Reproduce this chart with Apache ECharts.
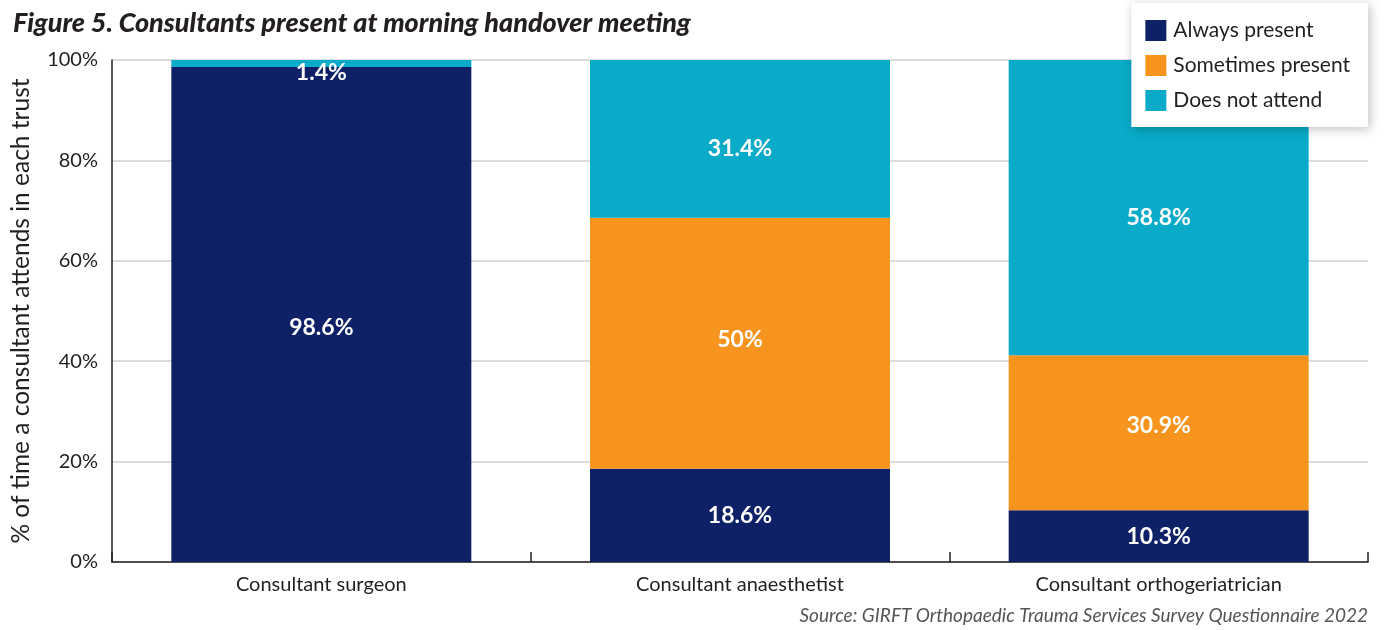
<!DOCTYPE html>
<html>
<head>
<meta charset="utf-8">
<script src="https://cdn.jsdelivr.net/npm/echarts@6/dist/echarts.min.js"></script>
<style>
  html, body { margin: 0; padding: 0; background: #fff; }
  #chart { width: 1384px; height: 630px; }
</style>
</head>
<body>
<div id="chart"></div>
<script>
// Share of trusts by consultant attendance at morning handover
const categories = ['Consultant surgeon', 'Consultant anaesthetist', 'Consultant orthogeriatrician'];
const alwaysPresent = [98.6, 18.6, 10.3];
const sometimesPresent = [0, 50, 30.9];
const doesNotAttend = [1.4, 31.4, 58.8];
const yTicks = [0, 20, 40, 60, 80, 100];

const FONT = 'Lato, "Open Sans", sans-serif';
const colors = { always: '#0E2167', sometimes: '#F7941D', none: '#09ABC8' };

function fmt(v) { return v + '%'; }

// per-bar label nudges (vertical, px)
function labelFor(values, dy) {
  return values.map((v, i) => ({
    value: v,
    label: {
      show: v > 0,
      offset: [0, dy ? dy[i] : 0]
    }
  }));
}

const labelStyle = {
  show: true,
  position: 'inside',
  color: '#fff',
  fontFamily: FONT,
  fontWeight: 'bold',
  fontSize: 23,
  formatter: p => fmt(p.value)
};

const chart = echarts.init(document.getElementById('chart'));
chart.setOption({
  animation: false,
  title: {
    text: 'Figure 5. Consultants present at morning handover meeting',
    left: 8,
    top: 5,
    textStyle: { fontFamily: FONT, fontStyle: 'italic', fontWeight: 900, fontSize: 27, color: '#231F20' }
  },
  graphic: [{
    type: 'text',
    right: 16,
    top: 606,
    style: {
      text: 'Source: GIRFT Orthopaedic Trauma Services Survey Questionnaire 2022',
      font: 'italic 19px ' + FONT,
      fill: '#555'
    }
  }],
  legend: {
    orient: 'vertical',
    right: 16,
    top: 3,
    itemWidth: 21,
    itemHeight: 21,
    itemGap: 14,
    padding: [17, 18, 16, 14],
    backgroundColor: '#fff',
    shadowColor: 'rgba(0,0,0,0.25)',
    shadowBlur: 10,
    shadowOffsetX: 2,
    shadowOffsetY: 2,
    icon: 'rect',
    textStyle: { fontFamily: FONT, fontSize: 21, color: '#231F20', padding: [0, 0, 0, 2] },
    data: ['Always present', 'Sometimes present', 'Does not attend']
  },
  grid: { left: 112, right: 16, top: 60, bottom: 68 },
  xAxis: {
    type: 'category',
    data: categories,
    axisLine: { lineStyle: { color: '#231F20', width: 1.5 } },
    axisTick: { show: true, inside: true, length: 10, lineStyle: { color: '#231F20', width: 1.5 } },
    axisLabel: { fontFamily: FONT, fontSize: 20, color: '#231F20', margin: 13 }
  },
  yAxis: {
    type: 'value',
    min: 0,
    max: 100,
    interval: 20,
    name: '% of time a consultant attends in each trust',
    nameLocation: 'middle',
    nameGap: 78,
    nameTextStyle: { fontFamily: FONT, fontSize: 24.5, color: '#231F20' },
    axisLine: { show: true, lineStyle: { color: '#231F20', width: 1.5 } },
    axisTick: { show: false },
    axisLabel: {
      fontFamily: FONT, fontSize: 20, color: '#231F20', margin: 14,
      formatter: v => yTicks.includes(v) ? v + '%' : ''
    },
    splitLine: { lineStyle: { color: '#D0D0D0', width: 1.5 } }
  },
  series: [
    {
      name: 'Always present', type: 'bar', stack: 'total', barWidth: 300,
      itemStyle: { color: colors.always },
      label: labelStyle,
      data: labelFor(alwaysPresent, [13, 0, 0])
    },
    {
      name: 'Sometimes present', type: 'bar', stack: 'total',
      itemStyle: { color: colors.sometimes },
      label: labelStyle,
      data: labelFor(sometimesPresent, [0, -4, -7])
    },
    {
      name: 'Does not attend', type: 'bar', stack: 'total',
      itemStyle: { color: colors.none },
      label: labelStyle,
      data: labelFor(doesNotAttend, [9, 10, 10])
    }
  ]
});
</script>
</body>
</html>
